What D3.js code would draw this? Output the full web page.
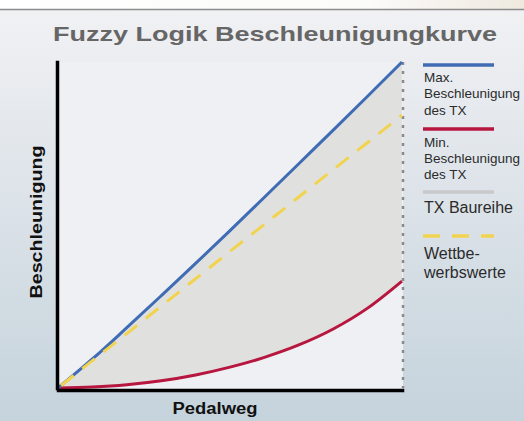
<!DOCTYPE html>
<html>
<head>
<meta charset="utf-8">
<script src="https://cdn.jsdelivr.net/npm/d3@7"></script>
<style>
  body { margin: 0; padding: 0; overflow: hidden; }
  svg { display: block; }
  text { font-family: "Liberation Sans", Arial, sans-serif; }
</style>
</head>
<body>
<svg width="524" height="421"></svg>
<script>
// Pedalweg (0..100 %) and the curves
var pedal    = [0, 10, 20, 30, 40, 50, 60, 70, 80, 90, 100];
var maxAccel = [0, 8.9, 18.5, 28.3, 38.2, 48.3, 58.5, 68.8, 79.1, 89.5, 100];
var minAccel = [0, 0.3, 1.0, 2.2, 4.0, 6.4, 9.4, 13.2, 18.1, 24.5, 32.8];
var wettbewerb = [0, 8.4, 16.7, 25.1, 33.5, 41.9, 50.2, 58.6, 67.0, 75.3, 83.7];

var legendItems = [
  {lines: ['Max.', 'Beschleunigung', 'des TX'], color: '#3f6cb4', dash: null, size: 13.5},
  {lines: ['Min.', 'Beschleunigung', 'des TX'], color: '#b7163f', dash: null, size: 13.5},
  {lines: ['TX Baureihe'], color: '#c9c8cb', dash: null, size: 16},
  {lines: ['Wettbe-', 'werbswerte'], color: '#f1d34f', dash: '17,12', size: 16}
];

var svg = d3.select('svg');
var defs = svg.append('defs');

var bg = defs.append('linearGradient').attr('id', 'bg')
  .attr('x1', 0).attr('y1', 0).attr('x2', 0).attr('y2', 1);
bg.append('stop').attr('offset', '0%').attr('stop-color', '#f2f2f4');
bg.append('stop').attr('offset', '30%').attr('stop-color', '#e4e8ed');
bg.append('stop').attr('offset', '100%').attr('stop-color', '#c5d3dc');

var topband = defs.append('linearGradient').attr('id', 'topband');
topband.append('stop').attr('offset', '0%').attr('stop-color', '#ffffff');
topband.append('stop').attr('offset', '70%').attr('stop-color', '#fbfbfa');
topband.append('stop').attr('offset', '100%').attr('stop-color', '#efe9df');

svg.append('rect').attr('width', 524).attr('height', 421).attr('fill', 'url(#bg)');
svg.append('rect').attr('width', 524).attr('height', 9).attr('fill', 'url(#topband)');
svg.append('line').attr('x1', 0).attr('x2', 524).attr('y1', 9.5).attr('y2', 9.5)
  .attr('stroke', '#8c8c8c').attr('stroke-width', 1.5);

// title
svg.append('text')
  .attr('x', 53).attr('y', 41)
  .attr('font-size', 21).attr('font-weight', 'bold').attr('fill', '#666')
  .attr('textLength', 444).attr('lengthAdjust', 'spacingAndGlyphs')
  .text('Fuzzy Logik Beschleunigungkurve');

var x = d3.scaleLinear().domain([0, 100]).range([58, 402]);
var y = d3.scaleLinear().domain([0, 100]).range([388, 62]);

// plot background
svg.append('rect')
  .attr('x', x(0)).attr('y', y(100))
  .attr('width', x(100) - x(0) + 1).attr('height', y(0) - y(100) + 1)
  .attr('fill', '#eff0f4');

var pts = pedal.map(function(p, i) {
  return {p: p, hi: maxAccel[i], lo: minAccel[i], w: wettbewerb[i]};
});

var area = d3.area()
  .x(function(d) { return x(d.p); })
  .y0(function(d) { return y(d.lo); })
  .y1(function(d) { return y(d.hi); })
  .curve(d3.curveMonotoneX);

svg.append('path').datum(pts).attr('d', area).attr('fill', '#e0e1df');

// dotted right border
svg.append('line')
  .attr('x1', x(100) + 1).attr('x2', x(100) + 1)
  .attr('y1', y(100)).attr('y2', y(0))
  .attr('stroke', '#8a8a8a').attr('stroke-width', 2.5)
  .attr('stroke-dasharray', '3,6');

function lineFor(key) {
  return d3.line()
    .x(function(d) { return x(d.p); })
    .y(function(d) { return y(d[key]); })
    .curve(d3.curveMonotoneX);
}

svg.append('path').datum(pts).attr('d', lineFor('lo'))
  .attr('fill', 'none').attr('stroke', '#b7163f').attr('stroke-width', 3);
svg.append('path').datum(pts).attr('d', lineFor('hi'))
  .attr('fill', 'none').attr('stroke', '#3f6cb4').attr('stroke-width', 3);
svg.append('path').datum(pts).attr('d', lineFor('w'))
  .attr('fill', 'none').attr('stroke', '#f1d34f').attr('stroke-width', 3)
  .attr('stroke-dasharray', '16,11').attr('stroke-dashoffset', -4);

// axes, no ticks
var xAxis = svg.append('g').attr('transform', 'translate(0,390)')
  .call(d3.axisBottom(x).ticks(0).tickSizeOuter(0));
var yAxis = svg.append('g').attr('transform', 'translate(57,0)')
  .call(d3.axisLeft(y).ticks(0).tickSizeOuter(0));
[xAxis, yAxis].forEach(function(a) {
  a.select('.domain').attr('stroke', '#000').attr('stroke-width', 3.5)
    .attr('stroke-linecap', 'square');
});

svg.append('text')
  .attr('x', 215).attr('y', 414).attr('text-anchor', 'middle')
  .attr('font-size', 16).attr('font-weight', 'bold').attr('fill', '#111')
  .attr('textLength', 85).attr('lengthAdjust', 'spacingAndGlyphs')
  .text('Pedalweg');

svg.append('text')
  .attr('transform', 'translate(42,222) rotate(-90)')
  .attr('text-anchor', 'middle')
  .attr('font-size', 16).attr('font-weight', 'bold').attr('fill', '#111')
  .attr('textLength', 153).attr('lengthAdjust', 'spacingAndGlyphs')
  .text('Beschleunigung');

// legend
var legendTop = [65, 129, 192, 236];
var legendBase = [[82, 98, 115], [147, 163, 179], [213], [259, 278]];
var lg = svg.append('g');
legendItems.forEach(function(item, i) {
  lg.append('line')
    .attr('x1', 423).attr('x2', 494)
    .attr('y1', legendTop[i]).attr('y2', legendTop[i])
    .attr('stroke', item.color).attr('stroke-width', 3.5)
    .attr('stroke-dasharray', item.dash);
  item.lines.forEach(function(t, j) {
    lg.append('text')
      .attr('x', 424).attr('y', legendBase[i][j])
      .attr('font-size', item.size).attr('fill', '#2b2b2b')
      .text(t);
  });
});
</script>
</body>
</html>
